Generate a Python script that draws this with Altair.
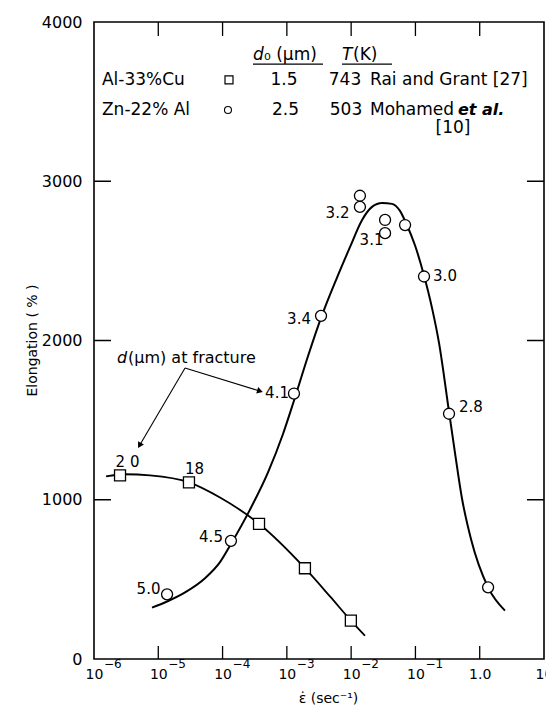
import altair as alt
import pandas as pd

# ---------------- data ----------------
# Al-33%Cu (squares): strain rate (1/s), elongation (%)
sq_rate = [2.54e-6, 3.0e-5, 3.69e-4, 1.91e-3, 9.9e-3]
sq_elong = [1153, 1109, 849, 570, 241]
sq_d = ["2 0", "18"]

# Zn-22%Al (circles)
ci_rate = [1.37e-5, 1.35e-4, 1.29e-3, 3.40e-3, 1.37e-2, 1.37e-2,
           3.37e-2, 3.37e-2, 6.9e-2, 0.136, 0.333, 1.35]
ci_elong = [406, 742, 1667, 2155, 2909, 2839, 2757, 2674, 2725, 2402, 1540, 450]
ci_d = ["5.0", "4.5", "4.1", "3.4", "3.2", "3.1", "3.0", "2.8"]

# hand-drawn trend curves (waypoints)
sq_curve_rate = [1.54e-6, 3.03e-6, 7.43e-6, 3.01e-5, 9.12e-5, 3.69e-4,
                 1.91e-3, 4.69e-3, 9.93e-3, 1.64e-2]
sq_curve_elong = [1147, 1160, 1153, 1109, 1014, 849, 570, 393, 241, 146]

ci_curve_rate = [7.98e-6, 1.37e-5, 2.61e-5, 5.33e-5, 9.12e-5, 1.35e-4, 2.67e-4,
                 5.09e-4, 8.71e-4, 1.29e-3, 2.13e-3, 3.40e-3, 6.03e-3, 9.59e-3,
                 1.48e-2, 2.11e-2, 3.02e-2, 4.33e-2, 5.75e-2, 7.13e-2, 9.84e-2,
                 0.136, 0.181, 0.233, 0.333, 0.413, 0.530, 0.731, 1.35, 2.47]
ci_curve_elong = [323, 361, 418, 507, 608, 722, 938, 1172, 1413, 1622, 1901,
                  2142, 2395, 2586, 2757, 2839, 2864, 2858, 2814, 2738, 2598,
                  2408, 2205, 1984, 1553, 1293, 1008, 754, 450, 304]

# axis ticks / labels
x_ticks = [1e-6, 1e-5, 1e-4, 1e-3, 1e-2, 1e-1, 1.0, 10.0]
x_exp_ticks = [1e-6, 1e-5, 1e-4, 1e-3, 1e-2, 1e-1]
x_exp_labels = ["\u22126", "\u22125", "\u22124", "\u22123", "\u22122", "\u22121"]
y_ticks = [0, 1000, 2000, 3000, 4000]

# table text
alloys = ["Al-33%Cu", "Zn-22% Al"]
d0 = ["1.5", "2.5"]
temps = ["743", "503"]
refs = ["Rai and Grant [27]", "Mohamed"]

# ---------------- layout ----------------
W, H = 450, 637
FONT = "DejaVu Sans"

xscale = alt.Scale(type="log", domain=[1e-6, 10], nice=False)
yscale = alt.Scale(domain=[0, 4000], nice=False)

xaxis = alt.Axis(values=x_ticks, labelExpr="datum.value == 1 ? '1.0' : '10'",
                 ticks=False, tickSize=0, domain=False, grid=False,
                 labelFont=FONT, labelFontSize=14, labelPadding=8, labelColor="black",
                 labelFlush=False, labelOverlap=False,
                 title="\u03b5\u0307  (sec\u207b\u00b9)", titleFont=FONT, titleFontSize=14,
                 titleFontWeight="normal", titleColor="black", titleX=234, titleY=39,
                 titleBaseline="middle")
yaxis = alt.Axis(values=y_ticks, format="d", ticks=False, tickSize=0, domain=False,
                 grid=False, labelFont=FONT, labelFontSize=16, labelPadding=12,
                 labelColor="black", labelFlush=False,
                 title="Elongation ( % )", titleFont=FONT, titleFontSize=14,
                 titleFontWeight="normal", titleColor="black", titleX=-62, titleY=318,
                 titleBaseline="middle", titleAngle=-90)

x_enc = alt.X("x:Q", scale=xscale, axis=xaxis)
y_enc = alt.Y("y:Q", scale=yscale, axis=yaxis)


def frame(xs, ys):
    return pd.DataFrame({"x": xs, "y": ys})


def txt(rows, **kw):
    df = pd.DataFrame(rows, columns=["lx", "y", "t"])
    df["x"] = 10 ** df["lx"]
    return alt.Chart(df).mark_text(font=FONT, color="black", baseline="middle", **kw).encode(
        x=x_enc, y=y_enc, text="t:N")


layers = []

# curves
layers.append(alt.Chart(frame(ci_curve_rate, ci_curve_elong)).mark_line(
    interpolate="monotone", color="black", strokeWidth=2).encode(x=x_enc, y=y_enc))
layers.append(alt.Chart(frame(sq_curve_rate, sq_curve_elong)).mark_line(
    interpolate="monotone", color="black", strokeWidth=1.8).encode(x=x_enc, y=y_enc))

# data markers
layers.append(alt.Chart(frame(sq_rate, sq_elong)).mark_point(
    shape="square", filled=True, fill="white", stroke="black", strokeWidth=1.3,
    size=121, opacity=1).encode(x=x_enc, y=y_enc))
layers.append(alt.Chart(frame(ci_rate, ci_elong)).mark_point(
    shape="circle", filled=True, fill="white", stroke="black", strokeWidth=1.3,
    size=121, opacity=1).encode(x=x_enc, y=y_enc))

# inward ticks
inner = x_ticks[1:-1]
layers.append(alt.Chart(frame(inner, [0] * len(inner))).mark_tick(
    orient="vertical", size=26, thickness=1.3, color="black", clip=True, opacity=1
).encode(x=x_enc, y=y_enc))
layers.append(alt.Chart(frame(inner, [4000] * len(inner))).mark_tick(
    orient="vertical", size=28, thickness=1.3, color="black", clip=True, opacity=1
).encode(x=x_enc, y=y_enc))
yin = y_ticks[1:-1]
layers.append(alt.Chart(frame([1e-6] * len(yin), yin)).mark_tick(
    orient="horizontal", size=34, thickness=1.3, color="black", clip=True, opacity=1
).encode(x=x_enc, y=y_enc))
layers.append(alt.Chart(frame([10.0] * len(yin), yin)).mark_tick(
    orient="horizontal", size=34, thickness=1.3, color="black", clip=True, opacity=1
).encode(x=x_enc, y=y_enc))

# exponents of the x tick labels
layers.append(alt.Chart(pd.DataFrame({"x": x_exp_ticks, "t": x_exp_labels})).mark_text(
    font=FONT, fontSize=12, color="black", align="left", baseline="middle", dx=10
).encode(x=x_enc, y=alt.value(H + 5), text="t:N"))

# table at top
hy, r1, r2, r3 = 3793, 3636, 3447, 3334
layers.append(txt([(-5.876, r1, alloys[0]), (-5.876, r2, alloys[1]),
                   (-3.356, hy, "\u2080 (\u03bcm)"), (-1.971, hy, "(K)"),
                   (-1.707, r1, refs[0]), (-1.707, r2, refs[1])],
                  fontSize=17, align="left"))
layers.append(txt([(-3.527, hy, "d"), (-2.142, hy, "T")],
                  fontSize=17, align="left", fontStyle="italic"))
layers.append(txt([(-0.338, r2, "et al.")],
                  fontSize=16, align="left", fontStyle="italic", fontWeight="bold"))
layers.append(txt([(-3.044, r1, d0[0]), (-3.02, r2, d0[1]),
                   (-2.096, r1, temps[0]), (-2.080, r2, temps[1]),
                   (-0.416, r3, "[10]")],
                  fontSize=17, align="center"))
ul = pd.DataFrame({"x": [10 ** -3.527, 10 ** -2.142], "x2": [10 ** -2.438, 10 ** -1.364],
                   "y": [3736, 3736]})
layers.append(alt.Chart(ul).mark_rule(color="black", strokeWidth=1.2).encode(
    x=x_enc, x2="x2:Q", y=y_enc))
layers.append(alt.Chart(frame([10 ** -3.90], [r1])).mark_point(
    shape="square", filled=True, fill="white", stroke="black", strokeWidth=1.2,
    size=64, opacity=1).encode(x=x_enc, y=y_enc))
layers.append(alt.Chart(frame([10 ** -3.916], [r2])).mark_point(
    shape="circle", filled=True, fill="white", stroke="black", strokeWidth=1.1,
    size=49, opacity=1).encode(x=x_enc, y=y_enc))

# grain-size labels
layers.append(txt([(-5.479, 1237, sq_d[0]), (-4.437, 1193, sq_d[1]),
                   (-5.152, 440, ci_d[0]), (-4.180, 766, ci_d[1]),
                   (-3.153, 1670, ci_d[2]), (-2.811, 2135, ci_d[3]),
                   (-2.212, 2801, ci_d[4]), (-1.683, 2631, ci_d[5]),
                   (-0.540, 2405, ci_d[6]), (-0.136, 1582, ci_d[7])],
                  fontSize=15, align="center"))

# "d(um) at fracture" with arrows
layers.append(txt([(-5.642, 1890, "d")], fontSize=16, align="left", fontStyle="italic"))
layers.append(txt([(-5.471, 1890, "(\u03bcm) at fracture")], fontSize=16, align="left"))
arr = pd.DataFrame({"x": [10 ** -4.584, 10 ** -3.418, 10 ** -4.584, 10 ** -5.292],
                    "y": [1827, 1682, 1827, 1341], "g": ["a", "a", "b", "b"]})
layers.append(alt.Chart(arr).mark_line(color="black", strokeWidth=1.1).encode(
    x=x_enc, y=y_enc, detail="g:N"))
heads = pd.DataFrame({"x": [10 ** -3.418, 10 ** -5.292], "y": [1682, 1341], "a": [17, 120]})
layers.append(alt.Chart(heads).mark_point(
    shape="triangle-right", filled=True, color="black", size=45, opacity=1).encode(
    x=x_enc, y=y_enc, angle=alt.Angle("a:Q", scale=None)))

chart = alt.layer(*layers).properties(
    width=W, height=H,
    autosize=alt.AutoSizeParams(type="none"),
    padding={"left": 86, "top": 14, "right": 2, "bottom": 46},
    background="white",
).configure_view(stroke="black", strokeWidth=1.6)

chart.save("out.html", embed_options={"renderer": "svg", "actions": False})
